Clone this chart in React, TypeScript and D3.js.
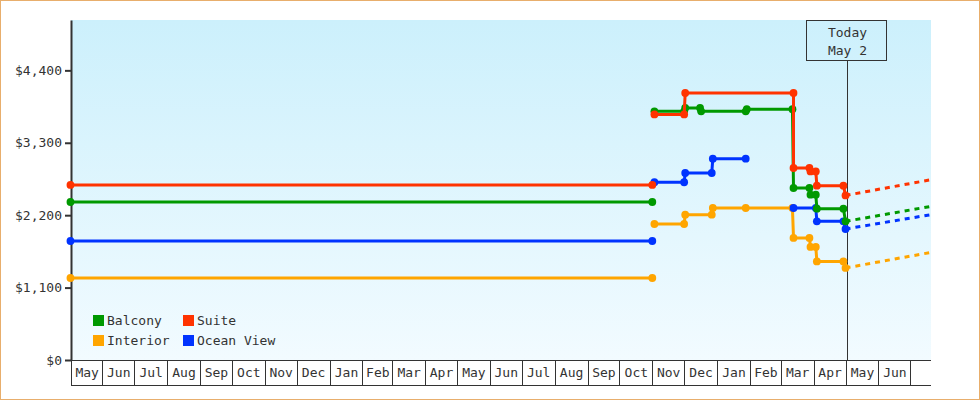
import React, { useEffect, useRef } from 'react';
import * as d3 from 'd3';

type Point = [string, number | null];

// series, drawn in this order (later ones on top)
const seriesNames = ['Interior', 'Ocean View', 'Balcony', 'Suite'];
const seriesColors = ['#ffa500', '#0033ff', '#009900', '#ff3300'];

const interiorPrices: Point[] = [
  ['2014-05-02', 1246], ['2015-11-01', 1246], ['2015-11-02', null],
  ['2015-11-03', 2066], ['2015-12-01', 2066], ['2015-12-02', 2208], ['2015-12-27', 2208],
  ['2015-12-28', 2309], ['2016-01-28', 2309], ['2016-03-12', 2309], ['2016-03-13', 1854],
  ['2016-03-28', 1854], ['2016-03-29', 1717], ['2016-04-03', 1717], ['2016-04-04', 1498],
  ['2016-04-29', 1498], ['2016-05-01', 1398],
];

const oceanViewPrices: Point[] = [
  ['2014-05-02', 1808], ['2015-11-01', 1808], ['2015-11-02', null],
  ['2015-11-03', 2700], ['2015-12-01', 2700], ['2015-12-02', 2841], ['2015-12-27', 2841],
  ['2015-12-28', 3058], ['2016-01-28', 3058], ['2016-02-01', null],
  ['2016-03-13', 2309], ['2016-04-03', 2309], ['2016-04-04', 2106], ['2016-04-29', 2106],
  ['2016-05-01', 1990],
];

const balconyPrices: Point[] = [
  ['2014-05-02', 2400], ['2015-11-01', 2400], ['2015-11-02', null],
  ['2015-11-03', 3777], ['2015-12-01', 3777], ['2015-12-02', 3828], ['2015-12-16', 3828],
  ['2015-12-17', 3777], ['2016-01-28', 3777], ['2016-01-29', 3810], ['2016-03-12', 3810],
  ['2016-03-13', 2613], ['2016-03-28', 2613], ['2016-03-29', 2511], ['2016-04-03', 2511],
  ['2016-04-04', 2299], ['2016-04-29', 2299], ['2016-05-01', 2106],
];

const suitePrices: Point[] = [
  ['2014-05-02', 2659], ['2015-11-01', 2659], ['2015-11-02', null],
  ['2015-11-03', 3731], ['2015-12-01', 3731], ['2015-12-02', 4056], ['2016-03-13', 4056],
  ['2016-03-13', 2917], ['2016-03-28', 2917], ['2016-03-29', 2865], ['2016-04-03', 2865],
  ['2016-04-04', 2648], ['2016-04-29', 2648], ['2016-05-01', 2500],
];

// projected price at the end of the range, same order as seriesNames
const projectedEndValues = [1635, 2208, 2334, 2739];

const legendRows = [['Balcony', 'Suite'], ['Interior', 'Ocean View']];
const yTicks = [0, 1100, 2200, 3300, 4400];
const dateDomain = ['2014-05-02T12:00:00Z', '2016-07-20T12:00:00Z'];
const todayDate = '2016-05-02T00:00:00Z';
const todayLabel = ['Today', 'May 2'];

const FONT = '"DejaVu Sans Mono", monospace';

export default function App() {
  const svgRef = useRef<SVGSVGElement>(null);

  useEffect(() => {
    document.body.style.margin = '0';
    if (!svgRef.current) return;
    const svg = d3.select(svgRef.current);
    svg.selectAll('*').remove();

    const width = 980;
    const height = 400;
    const left = 71, right = 931, top = 20, bottom = 360;
    const ink = '#333';

    const x = d3.scaleUtc()
      .domain(dateDomain.map(d => new Date(d)))
      .range([left, right]);
    const y = d3.scaleLinear().domain([0, 5165]).range([bottom, top]);

    svg.attr('width', width).attr('height', height);

    const defs = svg.append('defs');
    const grad = defs.append('linearGradient').attr('id', 'plotBg')
      .attr('x1', 0).attr('y1', 0).attr('x2', 0).attr('y2', 1);
    grad.append('stop').attr('offset', '0%').attr('stop-color', '#ccf0fc');
    grad.append('stop').attr('offset', '100%').attr('stop-color', '#f2fbff');

    // outer frame
    svg.append('rect')
      .attr('x', 0.5).attr('y', 0.5).attr('width', width - 1).attr('height', height - 1)
      .attr('fill', '#fff').attr('stroke', '#e8ae6c');

    // plot background
    svg.append('rect')
      .attr('x', left).attr('y', top).attr('width', right - left).attr('height', bottom - top)
      .attr('fill', 'url(#plotBg)');

    // month cells under the plot
    const [d0, d1] = x.domain();
    const bounds = [left, ...d3.utcMonths(d0, d1).map(d => x(d))];
    const cells = svg.append('g');
    bounds.forEach(b => {
      const bx = Math.round(b) + 0.5;
      cells.append('line').attr('x1', bx).attr('x2', bx).attr('y1', bottom).attr('y2', 385)
        .attr('stroke', ink);
    });
    [bottom + 0.5, 385.5].forEach(ly => {
      cells.append('line').attr('x1', left).attr('x2', right).attr('y1', ly).attr('y2', ly)
        .attr('stroke', ink);
    });
    const monthStarts = [d3.utcMonth.floor(d0), ...d3.utcMonths(d0, d1)];
    monthStarts.forEach((m, i) => {
      const a = bounds[i];
      const b = i + 1 < bounds.length ? bounds[i + 1] : right;
      if (b - a < 25) return;
      cells.append('text')
        .attr('x', (a + b) / 2 + 0.5).attr('y', 377)
        .attr('text-anchor', 'middle')
        .attr('font-family', FONT).attr('font-size', 13).attr('fill', ink)
        .text(d3.utcFormat('%b')(m));
    });

    // y axis
    const yAxis = svg.append('g')
      .attr('transform', `translate(${left},0)`)
      .call(d3.axisLeft(y).tickValues(yTicks).tickSize(6).tickSizeOuter(0).tickPadding(3)
        .tickFormat(d => '$' + d3.format(',')(d as number)));
    yAxis.select('.domain').attr('stroke', ink).attr('stroke-width', 2);
    yAxis.selectAll('.tick line').attr('stroke', ink).attr('stroke-width', 2);
    yAxis.selectAll('.tick text')
      .attr('font-family', FONT).attr('font-size', 13).attr('fill', ink);

    // today marker
    const tx = Math.round(x(new Date(todayDate))) + 0.5;
    svg.append('line').attr('x1', tx).attr('x2', tx).attr('y1', 60.5).attr('y2', bottom)
      .attr('stroke', ink);
    svg.append('rect').attr('x', 806.5).attr('y', 20.5).attr('width', 80).attr('height', 40)
      .attr('fill', 'none').attr('stroke', ink);
    todayLabel.forEach((t, i) => {
      svg.append('text').attr('x', tx).attr('y', 37 + i * 18)
        .attr('text-anchor', 'middle')
        .attr('font-family', FONT).attr('font-size', 13).attr('fill', ink)
        .text(t);
    });

    // price series
    const allSeries = [interiorPrices, oceanViewPrices, balconyPrices, suitePrices];
    const line = d3.line<Point>()
      .defined(d => d[1] !== null)
      .x(d => x(new Date(d[0])))
      .y(d => y(d[1] as number));
    const endDate = dateDomain[1];

    allSeries.forEach((data, i) => {
      const color = seriesColors[i];
      const g = svg.append('g');
      const last = data[data.length - 1];
      const projection: Point[] = [last, [endDate, projectedEndValues[i]]];
      g.append('path').attr('d', line(projection))
        .attr('fill', 'none').attr('stroke', color).attr('stroke-width', 3)
        .attr('stroke-dasharray', '5,5');
      g.append('path').attr('d', line(data))
        .attr('fill', 'none').attr('stroke', color).attr('stroke-width', 3)
        .attr('stroke-linejoin', 'round');
      g.selectAll('circle')
        .data(data.filter(d => d[1] !== null))
        .enter().append('circle')
        .attr('cx', d => x(new Date(d[0])))
        .attr('cy', d => y(d[1] as number))
        .attr('r', 3.9)
        .attr('fill', color);
    });

    // legend
    const legend = svg.append('g');
    legendRows.forEach((row, r) => {
      row.forEach((name, c) => {
        const lx = 93 + c * 90;
        const ly = 315 + r * 20;
        legend.append('rect').attr('x', lx).attr('y', ly).attr('width', 11).attr('height', 11)
          .attr('fill', seriesColors[seriesNames.indexOf(name)]);
        legend.append('text').attr('x', lx + 14).attr('y', ly + 10)
          .attr('font-family', FONT).attr('font-size', 13).attr('fill', ink)
          .text(name);
      });
    });
  }, []);

  return <svg ref={svgRef} style={{ display: 'block' }}></svg>;
}
